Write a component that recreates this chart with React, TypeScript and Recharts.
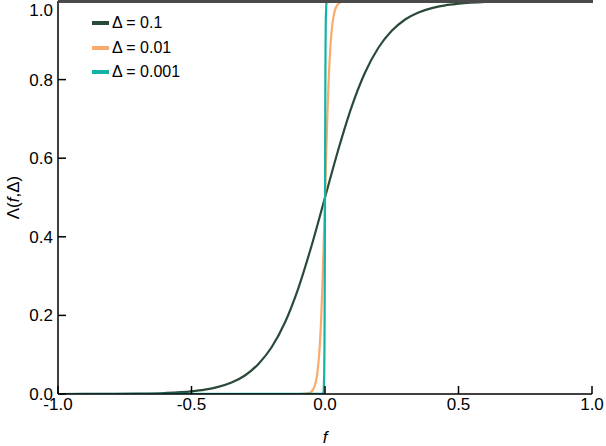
import { Line, LineChart, XAxis, YAxis } from "recharts";

const fWide = [-1, -0.9, -0.8, -0.7, -0.6, -0.5, -0.45, -0.4, -0.35, -0.3, -0.25, -0.2, -0.15, -0.1, -0.05, 0, 0.05, 0.1, 0.15, 0.2, 0.25, 0.3, 0.35, 0.4, 0.45, 0.5, 0.6, 0.7, 0.8, 0.9, 1];
const lambdaWide = [0, 0.0001, 0.0003, 0.0009, 0.0025, 0.0067, 0.011, 0.018, 0.029, 0.047, 0.076, 0.119, 0.182, 0.269, 0.378, 0.5, 0.622, 0.731, 0.818, 0.881, 0.924, 0.953, 0.971, 0.982, 0.989, 0.993, 0.9975, 0.9991, 0.9997, 0.9999, 1];

const fMid = [-1, -0.1, -0.07, -0.06, -0.05, -0.04, -0.03, -0.025, -0.02, -0.015, -0.01, -0.005, 0, 0.005, 0.01, 0.015, 0.02, 0.025, 0.03, 0.04, 0.05, 0.06, 0.07, 0.1, 1];
const lambdaMid = [0, 0.00005, 0.0009, 0.0025, 0.0067, 0.018, 0.047, 0.076, 0.119, 0.182, 0.269, 0.378, 0.5, 0.622, 0.731, 0.818, 0.881, 0.924, 0.953, 0.982, 0.993, 0.9975, 0.9991, 0.99995, 1];

const fNarrow = [-1, -0.008, -0.005, -0.003, -0.002, -0.001, 0, 0.001, 0.002, 0.003, 0.005, 0.008, 1];
const lambdaNarrow = [0, 0.0003, 0.007, 0.047, 0.119, 0.269, 0.5, 0.731, 0.881, 0.953, 0.993, 0.9997, 1];

const xTicks = [-1, -0.5, 0, 0.5, 1];
const yTicks = [0, 0.2, 0.4, 0.6, 0.8, 1];

const series = [
  { name: "Δ = 0.1", color: "#2a4a38", data: fWide.map((f, i) => ({ f, v: lambdaWide[i] })) },
  { name: "Δ = 0.01", color: "#f9ab6c", data: fMid.map((f, i) => ({ f, v: lambdaMid[i] })) },
  { name: "Δ = 0.001", color: "#14b3a5", data: fNarrow.map((f, i) => ({ f, v: lambdaNarrow[i] })) },
];

const font = "'Liberation Sans', Arial, sans-serif";

function LegendBox() {
  return (
    <div style={{ position: "absolute", left: 92, top: 11, fontFamily: font, fontSize: 16, color: "#000", pointerEvents: "none" }}>
      {series.map((s) => (
        <div key={s.name} style={{ display: "flex", alignItems: "center", height: 24.5 }}>
          <span style={{ display: "inline-block", width: 17, height: 4, background: s.color, marginRight: 3 }} />
          <span>{s.name}</span>
        </div>
      ))}
    </div>
  );
}

function YLabel({ viewBox }: any) {
  const cx = 13;
  const cy = viewBox ? viewBox.y + viewBox.height / 2 : 200;
  return (
    <text x={cx} y={cy} transform={`rotate(-90, ${cx}, ${cy})`} textAnchor="middle" dominantBaseline="central" fontFamily={font} fontSize={17} fill="#000">
      Λ(<tspan fontStyle="italic">f</tspan>,Δ)
    </text>
  );
}

function XLabel({ viewBox }: any) {
  const cx = viewBox ? viewBox.x + viewBox.width / 2 : 325;
  return (
    <text x={cx} y={437} textAnchor="middle" dominantBaseline="central" fontFamily={font} fontSize={17} fontStyle="italic" fill="#000">
      f
    </text>
  );
}

export default function App() {
  return (
    <div style={{ position: "absolute", left: 0, top: 0, width: 606, height: 446, background: "#fff" }}>
      <LineChart width={606} height={446} margin={{ top: 1, right: 14, bottom: 0, left: 0 }}>
        <XAxis
          type="number"
          dataKey="f"
          domain={[-1, 1]}
          ticks={xTicks}
          tickFormatter={(v: number) => v.toFixed(1)}
          allowDataOverflow
          height={52}
          stroke="#000"
          strokeWidth={1.5}
          tickSize={-8}
          tickMargin={12}
          tick={{ fill: "#000", fontSize: 17, fontFamily: font }}
          label={<XLabel />}
        />
        <YAxis
          type="number"
          domain={[0, 1]}
          ticks={yTicks}
          tickFormatter={(v: number) => v.toFixed(1)}
          allowDataOverflow
          width={58}
          stroke="#000"
          strokeWidth={1.5}
          tickSize={-8}
          tickMargin={13}
          tick={{ fill: "#000", fontSize: 17, fontFamily: font }}
          label={<YLabel />}
        />
        {series.map((s) => (
          <Line
            key={s.name}
            data={s.data}
            dataKey="v"
            name={s.name}
            type={s.name === "Δ = 0.001" ? "linear" : "monotone"}
            stroke={s.color}
            strokeWidth={2.2}
            dot={false}
            isAnimationActive={false}
          />
        ))}
        <YAxis yAxisId="right" orientation="right" type="number" domain={[0, 1]} width={0} tick={false} tickLine={false} stroke="#000" strokeWidth={1.5} />
      </LineChart>
      {/* top frame edge sits over the curves, as in the source figure */}
      <div style={{ position: "absolute", left: 58, top: 0, width: 535, height: 2.5, background: "#4a4a4a" }} />
      <LegendBox />
    </div>
  );
}
